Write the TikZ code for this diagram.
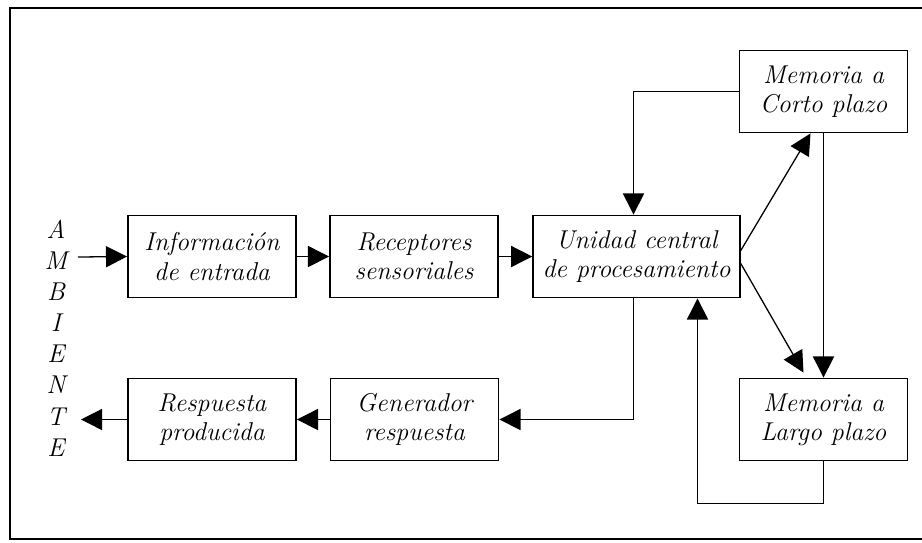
\documentclass[tikz,border=0pt]{standalone}
\usetikzlibrary{arrows.meta,calc}

\begin{document}
\begin{tikzpicture}[x=0.015cm,y=-0.015cm,
    letra/.style={font=\fontsize{11}{12.5}\selectfont\itshape},
    bloque/.style={draw,line width=0.8pt,minimum width=2.52cm,minimum height=1.23cm,
        align=center,letra,inner sep=2pt},
    flecha/.style={-{Triangle[length=9pt,width=9pt]},line width=0.55pt}]
    \useasboundingbox (0,0) rectangle (922,542);

    % Marco (abierto a la derecha)
    \draw[line width=0.8pt] (922,8) -- (10,8) -- (10,539) -- (922,539);

    % Ambiente
    \node[letra,align=center,inner sep=0pt] (amb) at (56,338)
        {A\\[0.8pt]M\\[0.8pt]B\\[0.8pt]I\\[0.8pt]E\\[0.8pt]N\\[0.8pt]T\\[0.8pt]E};
    \coordinate (entra) at (78,257);
    \coordinate (sale) at (81,419.5);

    % Bloques superiores
    \node[bloque] (info) at (212,256.5) {Informaci\'on\\de entrada};
    \node[bloque] (recep) at (414,256.5) {Receptores\\sensoriales};
    \node[bloque,minimum width=3.1cm] (ucp) at (636.5,256.5) {Unidad central\\de procesamiento};

    % Memorias
    \node[bloque] (mcp) at (823.5,91.5) {Memoria a\\Corto plazo};
    \node[bloque] (mlp) at (823.5,419.5) {Memoria a\\Largo plazo};

    % Bloques inferiores
    \node[bloque] (resp) at (212,419.5) {Respuesta\\producida};
    \node[bloque] (gen) at (414.5,419.5) {Generador\\respuesta};

    % Entrada
    \draw[flecha] (entra) -- (info.west);
    \draw[flecha] (info.east) -- (recep.west);
    \draw[flecha] (recep.east) -- (ucp.west);

    % Hacia las memorias
    \draw[flecha] ($(ucp.east)+(0,-6)$) -- ($(mcp.south)+(-13,0)$);
    \draw[flecha] ($(ucp.east)+(0,7)$) -- ($(mlp.north)+(-20,-5)$);
    \draw[flecha] (mcp.south) -- (mlp.north);

    % Retornos a la unidad central
    \draw[flecha] (mcp.west) -| ($(ucp.north)+(-3,0)$);
    \draw[flecha] (mlp.south) -- ++(0,42) -| ($(ucp.south)+(61,0)$);

    % Salida
    \draw[flecha] ($(ucp.south)+(-3,0)$) |- (gen.east);
    \draw[flecha] (gen.west) -- (resp.east);
    \draw[flecha] (resp.west) -- (sale);
\end{tikzpicture}
\end{document}
